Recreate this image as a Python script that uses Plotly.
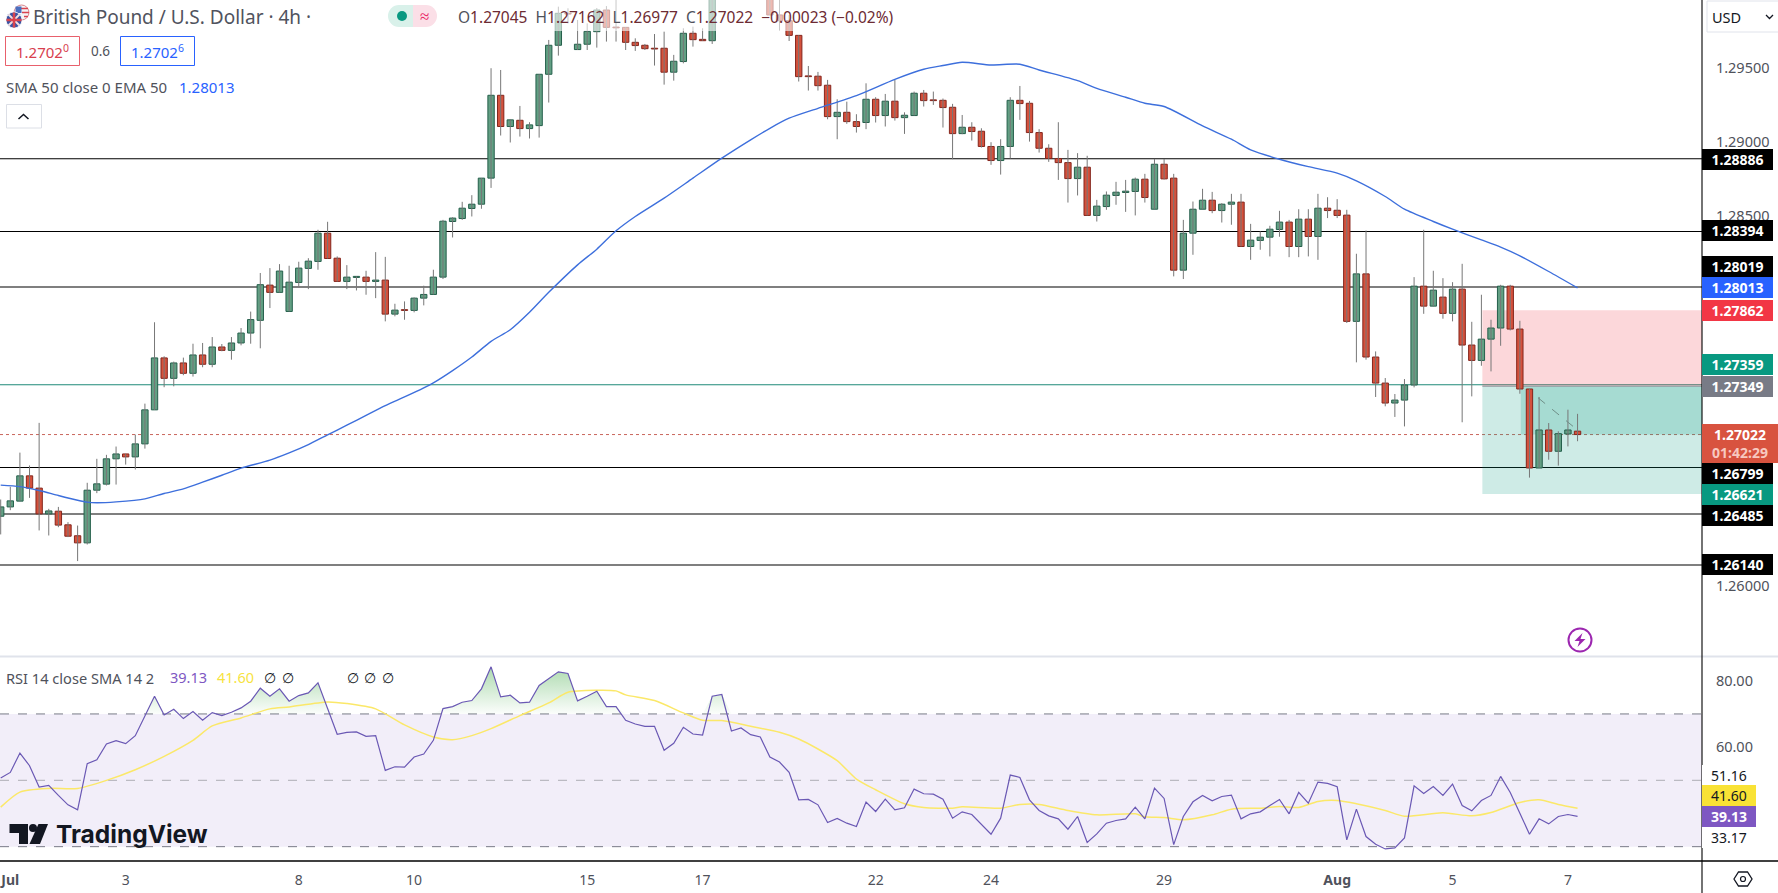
import plotly.graph_objects as go

W = 1778
H = 893
AXIS_X = 1702

# 4h GBP/USD bars, the first one is the last bar of June
opens = [
    1.26470, 1.26533, 1.26572, 1.26743, 1.26660, 1.26486, 1.26504, 1.26412, 1.26338, 1.26290,
    1.26646, 1.26687, 1.26858, 1.26891, 1.26871, 1.26959, 1.27189, 1.27540, 1.27402, 1.27506,
    1.27436, 1.27560, 1.27497, 1.27614, 1.27591, 1.27641, 1.27708, 1.27794, 1.28032, 1.27983,
    1.27854, 1.28050, 1.28145, 1.28192, 1.28383, 1.28214, 1.28057, 1.28084, 1.28086, 1.28057,
    1.28066, 1.27836, 1.27866, 1.27861, 1.27944, 1.27969, 1.28086, 1.28462, 1.28482, 1.28550,
    1.28579, 1.28755, 1.29315, 1.29104, 1.29146, 1.29090, 1.29110, 1.29457, 1.29653, 1.29869,
    1.29624, 1.29660, 1.29745, 1.29891, 1.29776, 1.29774, 1.29673, 1.29653, 1.29633, 1.29633,
    1.29471, 1.29543, 1.29734, 1.29693, 1.29684, 1.29986, 1.30080, 1.30180, 1.30120, 1.30150,
    1.30090, 1.29858, 1.29819, 1.29720, 1.29446, 1.29444, 1.29383, 1.29171, 1.29200, 1.29137,
    1.29131, 1.29288, 1.29178, 1.29275, 1.29164, 1.29178, 1.29329, 1.29284, 1.29281, 1.29234,
    1.29056, 1.29099, 1.29072, 1.28969, 1.28874, 1.28969, 1.29281, 1.29261, 1.29063, 1.28957,
    1.28888, 1.28860, 1.28752, 1.28829, 1.28503, 1.28563, 1.28638, 1.28658, 1.28665, 1.28748,
    1.28545, 1.28849, 1.28755, 1.28133, 1.28383, 1.28545, 1.28606, 1.28536, 1.28579, 1.28593,
    1.28293, 1.28334, 1.28356, 1.28408, 1.28458, 1.28293, 1.28478, 1.28361, 1.28552, 1.28538,
    1.28505, 1.27787, 1.28108, 1.27546, 1.27370, 1.27235, 1.27255, 1.27357, 1.28025, 1.27890,
    1.27951, 1.27841, 1.28005, 1.27627, 1.27523, 1.27667, 1.27742, 1.28025, 1.27735, 1.27330,
    1.26796, 1.27053, 1.26909, 1.27026, 1.27045,
]
highs = [
    1.26583, 1.26669, 1.26900, 1.26813, 1.27101, 1.26520, 1.26533, 1.26430, 1.26407, 1.26696,
    1.26858, 1.26885, 1.26941, 1.26891, 1.27022, 1.27231, 1.27781, 1.27551, 1.27515, 1.27542,
    1.27636, 1.27641, 1.27681, 1.27634, 1.27681, 1.27742, 1.27853, 1.28114, 1.28147, 1.28174,
    1.28163, 1.28190, 1.28214, 1.28406, 1.28460, 1.28226, 1.28167, 1.28091, 1.28129, 1.28255,
    1.28223, 1.27906, 1.27922, 1.27949, 1.28028, 1.28136, 1.28473, 1.28491, 1.28595, 1.28640,
    1.28755, 1.29498, 1.29486, 1.29153, 1.29243, 1.29133, 1.29457, 1.29689, 1.29914, 1.29903,
    1.29824, 1.29801, 1.29905, 1.29918, 1.29959, 1.29774, 1.29700, 1.29662, 1.29729, 1.29745,
    1.29588, 1.29768, 1.29779, 1.29768, 1.30040, 1.30150, 1.30220, 1.30250, 1.30210, 1.30220,
    1.30120, 1.29990, 1.29858, 1.29720, 1.29513, 1.29473, 1.29419, 1.29288, 1.29272, 1.29187,
    1.29396, 1.29302, 1.29324, 1.29419, 1.29200, 1.29340, 1.29351, 1.29340, 1.29293, 1.29257,
    1.29182, 1.29133, 1.29092, 1.28998, 1.29018, 1.29302, 1.29378, 1.29277, 1.29086, 1.28984,
    1.29133, 1.28946, 1.28924, 1.28906, 1.28608, 1.28665, 1.28730, 1.28743, 1.28759, 1.28784,
    1.28885, 1.28885, 1.28784, 1.28473, 1.28597, 1.28683, 1.28662, 1.28586, 1.28649, 1.28649,
    1.28446, 1.28395, 1.28433, 1.28534, 1.28473, 1.28545, 1.28545, 1.28649, 1.28626, 1.28613,
    1.28541, 1.28244, 1.28401, 1.27584, 1.27404, 1.27296, 1.27397, 1.28086, 1.28406, 1.28129,
    1.28079, 1.28052, 1.28176, 1.27784, 1.27967, 1.27798, 1.28034, 1.28034, 1.27791, 1.27330,
    1.27276, 1.27100, 1.27044, 1.27190, 1.27162,
]
lows = [
    1.26347, 1.26511, 1.26572, 1.26594, 1.26374, 1.26340, 1.26396, 1.26329, 1.26167, 1.26279,
    1.26626, 1.26678, 1.26684, 1.26819, 1.26786, 1.26927, 1.27189, 1.27342, 1.27348, 1.27423,
    1.27414, 1.27477, 1.27477, 1.27585, 1.27528, 1.27625, 1.27636, 1.27605, 1.27877, 1.27983,
    1.27854, 1.28023, 1.28005, 1.28136, 1.28212, 1.28057, 1.28005, 1.27996, 1.27967, 1.27944,
    1.27787, 1.27821, 1.27798, 1.27848, 1.27895, 1.27969, 1.28073, 1.28354, 1.28473, 1.28496,
    1.28548, 1.28689, 1.29043, 1.28996, 1.29036, 1.29023, 1.29029, 1.29266, 1.29583, 1.29801,
    1.29621, 1.29621, 1.29637, 1.29678, 1.29678, 1.29621, 1.29615, 1.29621, 1.29516, 1.29387,
    1.29414, 1.29531, 1.29644, 1.29684, 1.29662, 1.29970, 1.30020, 1.30080, 1.30060, 1.30050,
    1.29858, 1.29752, 1.29682, 1.29408, 1.29347, 1.29347, 1.29153, 1.29018, 1.29122, 1.29063,
    1.29086, 1.29131, 1.29104, 1.29144, 1.29054, 1.29178, 1.29239, 1.29250, 1.29097, 1.28883,
    1.29052, 1.29009, 1.28962, 1.28845, 1.28779, 1.28888, 1.29149, 1.29002, 1.28928, 1.28865,
    1.28743, 1.28590, 1.28638, 1.28503, 1.28462, 1.28541, 1.28575, 1.28527, 1.28503, 1.28590,
    1.28545, 1.28746, 1.28091, 1.28073, 1.28237, 1.28545, 1.28518, 1.28455, 1.28440, 1.28293,
    1.28203, 1.28271, 1.28226, 1.28359, 1.28221, 1.28221, 1.28226, 1.28203, 1.28485, 1.28485,
    1.27776, 1.27510, 1.27528, 1.27276, 1.27213, 1.27141, 1.27077, 1.27341, 1.27838, 1.27888,
    1.27805, 1.27787, 1.27105, 1.27280, 1.27487, 1.27449, 1.27622, 1.27726, 1.27298, 1.26731,
    1.26796, 1.26852, 1.26812, 1.26942, 1.26977,
]
closes = [
    1.26533, 1.26574, 1.26743, 1.26660, 1.26486, 1.26506, 1.26410, 1.26335, 1.26290, 1.26646,
    1.26689, 1.26858, 1.26891, 1.26871, 1.26959, 1.27189, 1.27540, 1.27402, 1.27506, 1.27436,
    1.27560, 1.27497, 1.27614, 1.27591, 1.27641, 1.27708, 1.27799, 1.28035, 1.27983, 1.28127,
    1.28052, 1.28147, 1.28194, 1.28383, 1.28212, 1.28057, 1.28086, 1.28091, 1.28057, 1.28066,
    1.27836, 1.27863, 1.27861, 1.27944, 1.27969, 1.28086, 1.28464, 1.28485, 1.28552, 1.28579,
    1.28755, 1.29315, 1.29104, 1.29149, 1.29090, 1.29115, 1.29457, 1.29653, 1.29869, 1.29864,
    1.29660, 1.29747, 1.29891, 1.29774, 1.29771, 1.29673, 1.29651, 1.29630, 1.29628, 1.29471,
    1.29545, 1.29734, 1.29691, 1.29684, 1.29986, 1.30080, 1.30180, 1.30120, 1.30150, 1.30090,
    1.29858, 1.29819, 1.29720, 1.29441, 1.29441, 1.29380, 1.29171, 1.29200, 1.29137, 1.29104,
    1.29288, 1.29178, 1.29275, 1.29164, 1.29180, 1.29329, 1.29279, 1.29279, 1.29232, 1.29056,
    1.29099, 1.29070, 1.28969, 1.28874, 1.28969, 1.29281, 1.29259, 1.29063, 1.28957, 1.28888,
    1.28860, 1.28752, 1.28829, 1.28503, 1.28566, 1.28640, 1.28660, 1.28667, 1.28748, 1.28624,
    1.28849, 1.28750, 1.28133, 1.28383, 1.28545, 1.28606, 1.28536, 1.28579, 1.28593, 1.28293,
    1.28336, 1.28356, 1.28410, 1.28458, 1.28293, 1.28478, 1.28361, 1.28552, 1.28536, 1.28503,
    1.27787, 1.28108, 1.27546, 1.27370, 1.27235, 1.27255, 1.27357, 1.28025, 1.27890, 1.27998,
    1.27841, 1.28005, 1.27627, 1.27523, 1.27667, 1.27742, 1.28025, 1.27735, 1.27330, 1.26796,
    1.27053, 1.26909, 1.27028, 1.27053, 1.27022,
]
rsi = [
    50.67, 52.38, 58.22, 54.40, 47.95, 48.46, 45.44, 42.61, 41.10, 55.00,
    56.21, 60.94, 61.95, 61.04, 63.46, 69.30, 75.34, 69.70, 71.41, 68.60,
    70.71, 68.09, 70.41, 69.50, 70.51, 71.82, 73.83, 77.76, 75.34, 77.56,
    73.83, 75.54, 76.35, 79.37, 71.82, 63.86, 64.47, 64.57, 63.26, 63.46,
    52.99, 54.09, 53.99, 57.01, 57.92, 62.05, 71.62, 72.22, 73.53, 74.03,
    77.56, 84.20, 75.14, 75.64, 73.33, 73.53, 78.56, 80.58, 82.69, 82.19,
    73.93, 75.34, 76.85, 72.22, 72.22, 68.09, 66.98, 66.28, 66.28, 59.03,
    61.14, 65.98, 63.96, 63.66, 75.34, 75.85, 64.87, 65.78, 63.76, 63.06,
    57.01, 55.50, 52.38, 44.12, 44.23, 42.61, 37.28, 38.49, 37.08, 36.07,
    43.42, 40.60, 44.33, 41.10, 41.71, 47.35, 45.94, 45.84, 44.33, 38.59,
    40.50, 39.69, 36.67, 33.75, 38.59, 51.58, 50.87, 44.12, 40.90, 39.29,
    38.39, 35.26, 39.09, 31.24, 33.85, 37.08, 37.88, 38.39, 41.91, 38.39,
    47.65, 44.53, 30.63, 39.09, 43.52, 45.44, 43.82, 45.13, 45.53, 38.39,
    39.90, 40.50, 42.41, 44.23, 39.90, 46.34, 43.12, 49.46, 49.06, 48.05,
    32.04, 41.31, 33.05, 30.73, 29.32, 29.62, 32.65, 48.35, 46.04, 48.15,
    45.44, 48.86, 42.41, 40.80, 43.92, 45.44, 51.17, 46.34, 40.10, 33.75,
    38.39, 36.87, 39.09, 39.69, 39.13,
]
bars = list(range(-1, len(opens) - 1))

ema_bars = [
    -1, 1, 3, 5, 7, 8, 9, 11, 14, 16, 18, 20, 22, 24, 27, 29, 31, 33, 35, 37,
    39, 41, 43, 44, 46, 48, 50, 52, 54, 56, 59, 61, 63, 65, 68, 71, 74, 77, 79, 81,
    84, 88, 92, 95, 97, 99, 102, 105, 107, 111, 113, 116, 118, 120, 124, 127, 129, 132, 135, 138,
    140, 143, 145, 148, 150, 153, 155, 157, 160, 163,
]
ema_values = [
    1.26680, 1.26670, 1.26644, 1.26610, 1.26578, 1.26565, 1.26561, 1.26567, 1.26587, 1.26624,
    1.26655, 1.26700, 1.26747, 1.26795, 1.26849, 1.26898, 1.26954, 1.27020, 1.27085, 1.27152,
    1.27218, 1.27276, 1.27337, 1.27371, 1.27454, 1.27546, 1.27652, 1.27730, 1.27848, 1.27983,
    1.28169, 1.28275, 1.28399, 1.28496, 1.28620, 1.28755, 1.28890, 1.29014, 1.29092, 1.29160,
    1.29227, 1.29313, 1.29423, 1.29491, 1.29516, 1.29538, 1.29520, 1.29525, 1.29486, 1.29414,
    1.29362, 1.29302, 1.29261, 1.29239, 1.29108, 1.29018, 1.28946, 1.28883, 1.28833, 1.28789,
    1.28737, 1.28631, 1.28545, 1.28462, 1.28410, 1.28338, 1.28289, 1.28230, 1.28124, 1.28013,
]
rsi_sma_bars = [
    -1, 1, 4, 7, 10, 13, 16, 19, 21, 24, 27, 29, 33, 35, 38, 41, 44, 46, 48, 50,
    53, 56, 58, 61, 63, 64, 67, 70, 72, 74, 77, 80, 82, 84, 86, 88, 90, 93, 95, 98,
    99, 103, 105, 107, 110, 113, 117, 118, 120, 122, 125, 127, 130, 132, 134, 136, 138, 140, 143, 145,
    149, 152, 154, 157, 159, 161, 163,
]
rsi_sma_values = [
    41.91, 46.44, 47.55, 47.55, 49.97, 53.19, 57.22, 62.05, 66.38, 68.80,
    71.52, 72.12, 73.63, 73.13, 71.52, 66.68, 63.06, 62.25, 63.46, 65.57,
    69.50, 73.33, 76.55, 77.15, 76.95, 75.74, 74.03, 70.31, 68.09, 67.99,
    66.28, 64.47, 62.45, 59.43, 55.91, 50.37, 47.15, 42.92, 41.81, 41.61,
    42.01, 41.61, 42.72, 42.72, 40.90, 39.59, 39.90, 38.99, 38.79, 38.08,
    39.59, 41.31, 41.61, 42.11, 41.81, 43.62, 43.92, 42.92, 40.90, 39.19,
    40.20, 39.29, 40.30, 43.32, 44.12, 42.72, 41.60,
]

black_levels = [1.28886, 1.28394, 1.28019, 1.26799, 1.26485, 1.26140]
teal_level = 1.27359
last_price = 1.27022
pos_entry = 1.27349
pos_stop = 1.27862
pos_target = 1.26621
pos_start_bar = 153.1
pos_trade_bar = 157.1
link_bars = [158.9, 163.2]
link_prices = [1.27270, 1.27042]

price_ticks = [1.295, 1.29, 1.285, 1.26]
rsi_ticks = [80, 60]
rsi_levels = [70, 50, 30]
date_bars = [0, 12, 30, 42, 60, 72, 90, 102, 120, 138, 150, 162]
date_labels = ["<b>Jul</b>", "3", "8", "10", "15", "17", "22", "24", "29", "<b>Aug</b>", "5", "7"]

GREY = "#4f525b"
GREEN = "#629f83"
GREEN_EDGE = "#245f4b"
RED = "#d4513c"
RED_EDGE = "#84251c"
FONT = "Noto Sans"


# layout is all in screen pixels, these turn them into paper coordinates
def px(x):
    return x / W


def py(y):
    return 1 - y / H


def poly(points, close=True):
    s = "M " + " L ".join("%.5f,%.5f" % (px(a), py(b)) for a, b in points)
    return s + (" Z" if close else "")


bar_x0 = (0 - 10.3) / 9.615
bar_x1 = (AXIS_X - 10.3) / 9.615

fig = go.Figure()

# wicks then bodies, wick colour differs from the body outline
wick_x = []
wick_y = []
for b, lo, hi in zip(bars, lows, highs):
    wick_x += [b, b, None]
    wick_y += [lo, hi, None]
fig.add_trace(
    go.Scatter(x=wick_x, y=wick_y, mode="lines", line=dict(color="#777777", width=1), hoverinfo="skip")
)
fig.add_trace(
    go.Bar(
        x=bars,
        y=[abs(c - o) for o, c in zip(opens, closes)],
        base=[min(o, c) for o, c in zip(opens, closes)],
        width=0.66,
        marker=dict(
            color=[GREEN if c >= o else RED for o, c in zip(opens, closes)],
            line=dict(color=[GREEN_EDGE if c >= o else RED_EDGE for o, c in zip(opens, closes)], width=1),
        ),
        hoverinfo="skip",
    )
)
fig.add_trace(
    go.Scatter(x=link_bars, y=link_prices, mode="lines", line=dict(color="#6f8f88", width=1, dash="dash"))
)
fig.add_trace(
    go.Scatter(x=ema_bars, y=ema_values, mode="lines", line=dict(color="#3d6fdc", width=1.4, shape="spline", smoothing=0.7))
)

# RSI pane, the green fill sits between the 70 level and the line
fig.add_trace(
    go.Scatter(
        x=bars, y=[70] * len(bars), mode="lines", line=dict(width=0), xaxis="x2", yaxis="y2", hoverinfo="skip"
    )
)
fig.add_trace(
    go.Scatter(
        x=bars,
        y=[max(v, 70) for v in rsi],
        mode="lines",
        line=dict(width=0),
        fill="tonexty",
        fillgradient=dict(
            type="vertical",
            start=84,
            stop=70,
            colorscale=[[0, "rgba(76,175,80,0.45)"], [1, "rgba(76,175,80,0.02)"]],
        ),
        xaxis="x2",
        yaxis="y2",
        hoverinfo="skip",
    )
)
fig.add_trace(
    go.Scatter(
        x=rsi_sma_bars,
        y=rsi_sma_values,
        mode="lines",
        line=dict(color="#fbe869", width=1.5, shape="spline", smoothing=0.7),
        xaxis="x2",
        yaxis="y2",
    )
)
fig.add_trace(
    go.Scatter(x=bars, y=rsi, mode="lines", line=dict(color="#6a58b4", width=1.2), xaxis="x2", yaxis="y2")
)

shapes = []
# position tool
shapes.append(dict(type="rect", xref="x", yref="y", x0=pos_start_bar, x1=bar_x1, y0=pos_entry, y1=pos_stop,
                   fillcolor="rgba(242,54,69,0.2)", line_width=0, layer="below"))
shapes.append(dict(type="rect", xref="x", yref="y", x0=pos_start_bar, x1=bar_x1, y0=pos_target, y1=pos_entry,
                   fillcolor="rgba(8,153,129,0.2)", line_width=0, layer="below"))
shapes.append(dict(type="rect", xref="x", yref="y", x0=pos_trade_bar, x1=bar_x1, y0=last_price, y1=pos_entry,
                   fillcolor="rgba(8,153,129,0.2)", line_width=0, layer="below"))
shapes.append(dict(type="line", xref="x", yref="y", x0=pos_start_bar, x1=bar_x1, y0=pos_entry, y1=pos_entry,
                   line=dict(color="#8a8f98", width=1), layer="below"))
for level in black_levels:
    shapes.append(dict(type="line", xref="paper", yref="y", x0=0, x1=px(AXIS_X), y0=level, y1=level,
                       line=dict(color="#000000", width=1.1), layer="below"))
shapes.append(dict(type="line", xref="paper", yref="y", x0=0, x1=px(AXIS_X), y0=teal_level, y1=teal_level,
                   line=dict(color="#1f8a78", width=1.1), layer="below"))
shapes.append(dict(type="line", xref="paper", yref="y", x0=0, x1=px(AXIS_X), y0=last_price, y1=last_price,
                   line=dict(color="#c9655c", width=1, dash="dot"), layer="below"))
# RSI band and levels
shapes.append(dict(type="rect", xref="paper", yref="y2", x0=0, x1=px(AXIS_X), y0=rsi_levels[2], y1=rsi_levels[0],
                   fillcolor="rgba(126,87,194,0.1)", line_width=0, layer="below"))
for level, col in zip(rsi_levels, ["#787b86", "#adadb5", "#787b86"]):
    shapes.append(dict(type="line", xref="paper", yref="y2", x0=0, x1=px(AXIS_X), y0=level, y1=level,
                       line=dict(color=col, width=1, dash="dash"), layer="below"))


def pbox(kind, x0, y0, x1, y1, **kw):
    shapes.append(dict(type=kind, xref="paper", yref="paper", x0=px(x0), x1=px(x1), y0=py(y0), y1=py(y1), **kw))


def ppath(points, close=True, **kw):
    shapes.append(dict(type="path", xref="paper", yref="paper", path=poly(points, close), **kw))


# frame
pbox("line", 0, 656.5, W, 656.5, line=dict(color="#e0e3eb", width=2))
pbox("line", 0, 861, W, 861, line=dict(color="#000000", width=1.3))
pbox("line", AXIS_X, 0, AXIS_X, H, line=dict(color="#000000", width=1.1))
# legend row washes out the candles below it
pbox("rect", 450, 0, 900, 31, fillcolor="rgba(255,255,255,0.6)", line_width=0)
# flags: US behind, GB in front
pbox("circle", 14, 5, 29, 20, fillcolor="#f4f4f6", line=dict(color="#d9868d", width=1))
pbox("line", 21, 8.5, 28, 8.5, line=dict(color="#d9434f", width=1.5))
pbox("line", 22, 12.5, 29, 12.5, line=dict(color="#d9434f", width=1.5))
pbox("line", 24, 16.5, 28, 16.5, line=dict(color="#d9434f", width=1.5))
pbox("rect", 15.5, 6.5, 21.5, 13, fillcolor="#4a6fc0", line_width=0)
pbox("circle", 6, 12, 22, 28, fillcolor="#3a55a4", line=dict(color="#ffffff", width=0.8))
pbox("line", 8.5, 14.5, 19.5, 25.5, line=dict(color="#f3dfe0", width=2))
pbox("line", 19.5, 14.5, 8.5, 25.5, line=dict(color="#f3dfe0", width=2))
pbox("line", 6.5, 20, 21.5, 20, line=dict(color="#d9434f", width=2.5))
pbox("line", 14, 12.5, 14, 27.5, line=dict(color="#d9434f", width=2.5))
# pill
pbox("circle", 388, 5, 410, 27, fillcolor="#d9f1ea", line_width=0)
pbox("rect", 399, 5, 413, 27, fillcolor="#d9f1ea", line_width=0)
pbox("circle", 415, 5, 437, 27, fillcolor="#fbdfe7", line_width=0)
pbox("rect", 413, 5, 426, 27, fillcolor="#fbdfe7", line_width=0)
pbox("circle", 397, 11, 407, 21, fillcolor="#089981", line_width=0)
# bid / ask boxes
pbox("rect", 5.5, 36.5, 79.5, 65.5, line=dict(color="#e8606c", width=1))
pbox("rect", 120.5, 36.5, 194.5, 65.5, line=dict(color="#2962ff", width=1))
# collapse button
pbox("rect", 6.5, 104.5, 41.5, 128, line=dict(color="#dcdfe6", width=1))
ppath([(18.5, 119), (23.5, 114.5), (28.5, 119)], close=False, line=dict(color="#131722", width=1.5))
# currency selector
pbox("rect", 1707, 1, 1785, 32, line=dict(color="#e0e3eb", width=1))
ppath([(1766, 15), (1769.5, 18.5), (1773, 15)], close=False, line=dict(color="#131722", width=1.3))
# lightning badge
pbox("circle", 1568.5, 628.5, 1591.5, 651.5, line=dict(color="#9c27b0", width=2))
ppath([(1582.5, 633), (1574.5, 641), (1579.5, 641), (1577.5, 647), (1585.5, 639), (1580.5, 639)],
      fillcolor="#9c27b0", line_width=0)
# settings icon
ppath([(1734, 879), (1738.5, 872), (1747.5, 872), (1752, 879), (1747.5, 886), (1738.5, 886)],
      line=dict(color="#131722", width=1.3))
pbox("circle", 1740.5, 876.5, 1745.5, 881.5, line=dict(color="#131722", width=1.2))
# TradingView mark
ppath([(9.5, 824), (28, 824), (28, 844), (19, 844), (19, 833), (9.5, 833)], fillcolor="#131722", line_width=0)
pbox("circle", 29, 824, 37, 832, fillcolor="#131722", line_width=0)
ppath([(38.5, 824), (48, 824), (40, 844), (29.5, 844)], fillcolor="#131722", line_width=0)

notes = []


def note(text, x, y, size=14, color=GREY, anchor="left", family=FONT, **kw):
    notes.append(
        dict(text=text, xref="paper", yref="paper", x=px(x), y=py(y), xanchor=anchor, yanchor="middle",
             showarrow=False, font=dict(family=family, size=size, color=color), borderpad=0, borderwidth=0, **kw)
    )


def tag(text, y, bg, color="#ffffff", width=71, height=21):
    # coloured tags read heavier than the plain white ones
    if color == "#ffffff":
        text = "<b>" + text + "</b>"
    note(text, AXIS_X, y, size=14, color=color, bgcolor=bg, width=width, height=height, align="center")


note("British Pound / U.S. Dollar · 4h ·", 33, 17, size=19, color="#50535e")
note("≈", 424, 16, size=17, color="#e91e63", anchor="center")
dark = "#6d2b33"
ohlc = [("O", "1.27045"), ("H", "1.27162"), ("L", "1.26977"), ("C", "1.27022")]
legend_row = "  ".join(
    "<span style='color:%s'>%s</span><span style='color:%s'>%s</span>" % (GREY, k, dark, v) for k, v in ohlc
)
note(legend_row + "  <span style='color:%s'>−0.00023 (−0.02%%)</span>" % dark, 458, 17, size=15.5)
note("1.2702<sup>0</sup>", 42.5, 51, size=15, color="#d8404e", anchor="center")
note("0.6", 100, 51, size=13.5, color=GREY, anchor="center")
note("1.2702<sup>6</sup>", 157.5, 51, size=15, color="#2962ff", anchor="center")
note("SMA 50 close 0 EMA 50", 6, 87, size=15)
note("1.28013", 179, 87, size=15, color="#2962ff")
note("USD", 1711.5, 17, size=14.5, color="#131722")
note("RSI 14 close SMA 14 2", 6, 678, size=14.6)
note("39.13", 170, 677, size=14.5, color="#7e57c2")
note("41.60", 217, 677, size=14.5, color="#f7e33f")
for x in [270, 288, 353, 370, 388]:
    note("∅", x, 677, size=14, color="#131722", anchor="center")
note("<b>TradingView</b>", 56, 834, size=24.5, color="#131722", family="Inter")

tag("1.28886", 159, "#000000")
tag("1.28394", 231, "#000000")
tag("1.28019", 266.7, "#000000")
tag("1.28013", 287.7, "#2962ff")
tag("1.27862", 310.3, "#f23645")
tag("1.27359", 364.7, "#089981")
tag("1.27349", 386.7, "#787b86")
tag("1.27022<br><span style='color:#f7c9c0'>01:42:29</span>", 443.3, "#d8533f", width=76, height=39)
tag("1.26799", 473.3, "#000000")
tag("1.26621", 494.7, "#089981")
tag("1.26485", 515.7, "#000000")
tag("1.26140", 564.7, "#000000")
tag("51.16", 775, "#ffffff", color="#131722", width=54)
tag("41.60", 795.7, "#f9e235", color="#131722", width=54)
tag("39.13", 816.7, "#7e57c2", width=54)
tag("33.17", 837.7, "#ffffff", color="#131722", width=54)

assert len(opens) == len(highs) == len(lows) == len(closes) == len(rsi)
assert len(ema_bars) == len(ema_values) and len(rsi_sma_bars) == len(rsi_sma_values)

fig.update_layout(
    width=W,
    height=H,
    margin=dict(l=0, r=0, t=0, b=0),
    paper_bgcolor="#ffffff",
    plot_bgcolor="#ffffff",
    showlegend=False,
    barmode="overlay",
    font=dict(family=FONT, size=14, color=GREY),
    shapes=shapes,
    annotations=notes,
    xaxis=dict(
        domain=[0, px(AXIS_X)], range=[bar_x0, bar_x1], anchor="y", showgrid=False, zeroline=False,
        showticklabels=False, ticks="", matches="x2",
    ),
    yaxis=dict(
        domain=[py(656.5), 1], range=[1.25522, 1.29959], side="right", anchor="x", showgrid=False, zeroline=False,
        tickmode="array", tickvals=price_ticks, ticktext=["%.5f" % v for v in price_ticks],
        ticks="outside", ticklen=10, tickcolor="rgba(0,0,0,0)", tickfont=dict(size=14.5, color=GREY),
    ),
    xaxis2=dict(
        domain=[0, px(AXIS_X)], range=[bar_x0, bar_x1], anchor="y2", showgrid=False, zeroline=False,
        tickmode="array", tickvals=date_bars, ticktext=date_labels, ticklabeloverflow="allow",
        ticks="", ticklabelstandoff=9, tickfont=dict(size=14, color=GREY),
    ),
    yaxis2=dict(
        domain=[py(861), py(656.5)], range=[25.68, 87.31], side="right", anchor="x2", showgrid=False, zeroline=False,
        tickmode="array", tickvals=rsi_ticks, ticktext=["%.2f" % v for v in rsi_ticks],
        ticks="outside", ticklen=10, tickcolor="rgba(0,0,0,0)", tickfont=dict(size=14.5, color=GREY),
    ),
)
fig.write_html(
    "out.html",
    config={"displayModeBar": False},
    post_script="document.body.style.margin='0';document.body.style.overflow='hidden';",
)
